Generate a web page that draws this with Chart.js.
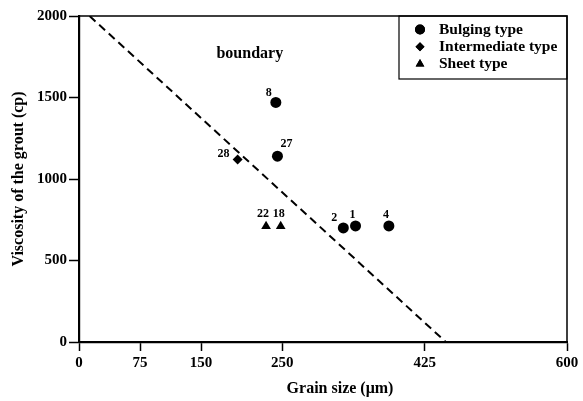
<!DOCTYPE html>
<html><head><meta charset="utf-8">
<script src="https://cdn.jsdelivr.net/npm/chart.js@4/dist/chart.umd.min.js"></script>
<style>html,body{margin:0;padding:0;background:#fff}#wrap{width:583px;height:401px}</style>
</head><body><div id="wrap"><canvas id="c" width="583" height="401"></canvas></div>
<script>
// ---- data ----
const xTicks = [0, 75, 150, 250, 425, 600];
const yTicks = [0, 500, 1000, 1500, 2000];
const seriesNames = ['Bulging type', 'Intermediate type', 'Sheet type'];
const bulgingX = [242, 244, 325, 340, 381];
const bulgingY = [1470, 1140, 700, 712, 712];
const bulgingIds = ['8', '27', '2', '1', '4'];
const interX = [195];
const interY = [1120];
const interIds = ['28'];
const sheetX = [230, 248];
const sheetY = [710, 710];
const sheetIds = ['22', '18'];
const boundaryX = [13, 451];
const boundaryY = [2000, 0];
const boundaryText = 'boundary';
const xTitle = 'Grain size (μm)';
const yTitle = 'Viscosity of the grout (cp)';

const FONT = '"Liberation Serif", "Times New Roman", serif';
const pts = (xs, ys) => xs.map((x, i) => ({x: x, y: ys[i]}));

const labelOffsets = {'8': [-7, -9], '27': [9, -12], '28': [-14, -6], '22': [-3, -12], '18': [-2, -12], '2': [-9, -10], '1': [-3, -11], '4': [-3, -11]};

const annot = {
  id: 'annot',
  afterDatasetsDraw(chart) {
    const ctx = chart.ctx, ca = chart.chartArea;
    const xs = chart.scales.x, ys = chart.scales.y;
    ctx.save();
    // frame top/right
    ctx.strokeStyle = '#000'; ctx.lineWidth = 1.5;
    ctx.beginPath();
    ctx.moveTo(ca.left, ca.top); ctx.lineTo(ca.right, ca.top); ctx.lineTo(ca.right, ca.bottom);
    ctx.stroke();
    // point labels
    ctx.fillStyle = '#000';
    ctx.font = 'bold 12px ' + FONT;
    ctx.textAlign = 'center'; ctx.textBaseline = 'middle';
    chart.data.datasets.forEach((ds, i) => {
      if (!ds.ids) return;
      const meta = chart.getDatasetMeta(i);
      meta.data.forEach((el, j) => {
        const id = ds.ids[j];
        const off = labelOffsets[id] || [0, -10];
        ctx.fillText(id, el.x + off[0], el.y + off[1]);
      });
    });
    // boundary text
    ctx.font = 'bold 16px ' + FONT;
    ctx.fillText(boundaryText, xs.getPixelForValue(210), ys.getPixelForValue(1770));
    // legend box
    const bw = 168, bh = 63;
    const bx = ca.right - bw, by = ca.top;
    ctx.lineWidth = 1.2;
    ctx.strokeRect(bx, by, bw, bh);
    const styles = chart.data.datasets.filter(d => d.ids);
    styles.forEach((d, k) => {
      const ry = by + 13.5 + k * 17.2;
      Chart.helpers.drawPoint(ctx, {pointStyle: d.pointStyle, radius: d.legendRadius, rotation: 0, borderWidth: 0}, bx + 21, ry);
      ctx.fillStyle = '#000';
      ctx.fill();
      ctx.textAlign = 'left';
      ctx.font = 'bold 15.5px ' + FONT;
      ctx.fillText(d.label, bx + 40, ry);
    });
    // axis titles
    ctx.textAlign = 'center';
    ctx.font = 'bold 16px ' + FONT;
    ctx.fillText(xTitle, 340, 389);
    ctx.translate(19, (ca.top + ca.bottom) / 2);
    ctx.rotate(-Math.PI / 2);
    ctx.fillText(yTitle, 0, 0);
    ctx.restore();
  }
};

new Chart(document.getElementById('c'), {
  type: 'scatter',
  data: {
    datasets: [
      {label: seriesNames[0], ids: bulgingIds, data: pts(bulgingX, bulgingY), pointStyle: 'circle', pointRadius: 5.5, legendRadius: 5, backgroundColor: '#000', borderColor: '#000', borderWidth: 0},
      {label: seriesNames[1], ids: interIds, data: pts(interX, interY), pointStyle: 'rectRot', pointRadius: 5, legendRadius: 4.5, backgroundColor: '#000', borderColor: '#000', borderWidth: 0},
      {label: seriesNames[2], ids: sheetIds, data: pts(sheetX, sheetY), pointStyle: 'triangle', pointRadius: 5.6, legendRadius: 5, backgroundColor: '#000', borderColor: '#000', borderWidth: 0},
      {type: 'line', label: 'boundary', data: pts(boundaryX, boundaryY), showLine: true, borderColor: '#000', borderWidth: 2, borderDash: [8, 5], pointRadius: 0, fill: false}
    ]
  },
  options: {
    responsive: false, animation: false, devicePixelRatio: 1,
    layout: {padding: {top: 16, right: 16, left: 0, bottom: 0}},
    plugins: {legend: {display: false}, tooltip: {enabled: false}},
    scales: {
      x: {
        type: 'linear', min: 0, max: 600,
        afterBuildTicks: s => { s.ticks = xTicks.map(v => ({value: v})); },
        afterFit: s => { s.height = 59; },
        ticks: {autoSkip: false, maxRotation: 0, padding: 3, color: '#000', font: {family: FONT, weight: 'bold', size: 15}, callback: v => String(v)},
        grid: {drawOnChartArea: false, drawTicks: true, tickLength: 9, color: '#000', tickWidth: 1.5},
        border: {color: '#000', width: 2.2}
      },
      y: {
        type: 'linear', min: 0, max: 2000,
        afterBuildTicks: s => { s.ticks = yTicks.map(v => ({value: v})); },
        afterFit: s => { s.width = 79; },
        ticks: {autoSkip: false, padding: 2, color: '#000', font: {family: FONT, weight: 'bold', size: 15}, callback: v => String(v)},
        grid: {drawOnChartArea: false, drawTicks: true, tickLength: 10, color: '#000', tickWidth: 1.5},
        border: {color: '#000', width: 2.2}
      }
    }
  },
  plugins: [annot]
});
</script></body></html>
